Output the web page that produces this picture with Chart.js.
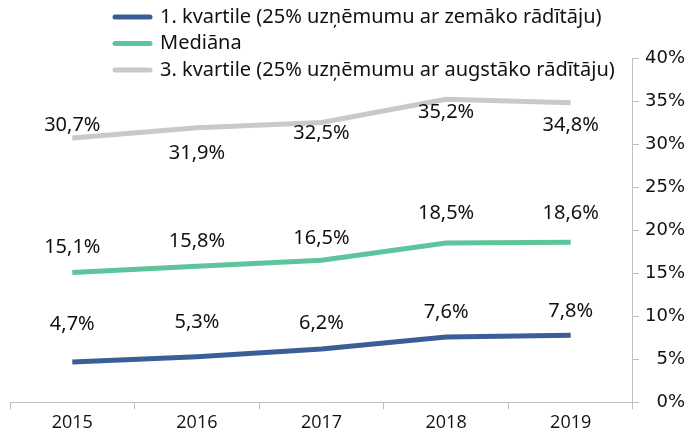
<!DOCTYPE html>
<html>
<head>
<meta charset="utf-8">
<script src="https://cdn.jsdelivr.net/npm/chart.js@4/dist/chart.umd.min.js"></script>
<style>
  html, body { margin: 0; padding: 0; background: #fff; }
  #wrap { width: 692px; height: 439px; }
</style>
</head>
<body>
<div id="wrap"><canvas id="kvartilesChart"></canvas></div>
<script>
// Dati
const gadi = ['2015', '2016', '2017', '2018', '2019'];
const kvartile1 = [4.7, 5.3, 6.2, 7.6, 7.8];
const mediana = [15.1, 15.8, 16.5, 18.5, 18.6];
const kvartile3 = [30.7, 31.9, 32.5, 35.2, 34.8];
const nosaukumi = [
    '1. kvartile (25% uzņēmumu ar zemāko rādītāju)',
    'Mediāna',
    '3. kvartile (25% uzņēmumu ar augstāko rādītāju)'
];

// Krāsas
const krasas = ['#3B5E96', '#5EC49B', '#C9C9C9'];
// Datu etiķešu nobīde (px) no punkta
const nobides = [
    [-38, -34, -26, -25, -24],
    [-25, -25, -22, -30, -29],
    [-13, 26, 11, 13, 23]
];

const fonts = '"Noto Sans", Lato, sans-serif';
const formatet = v => v.toFixed(1).replace('.', ',') + '%';

const datuEtiketes = {
    id: 'datuEtiketes',
    afterDatasetsDraw(chart) {
        const ctx = chart.ctx;
        ctx.save();
        ctx.font = '20px ' + fonts;
        ctx.fillStyle = '#111';
        ctx.textAlign = 'center';
        ctx.textBaseline = 'middle';
        chart.data.datasets.forEach((ds, i) => {
            chart.getDatasetMeta(i).data.forEach((pt, j) => {
                ctx.fillText(formatet(ds.data[j]), pt.x, pt.y + nobides[i][j]);
            });
        });
        ctx.restore();
    }
};

const legenda = {
    id: 'legenda',
    afterDraw(chart) {
        const ctx = chart.ctx;
        ctx.save();
        ctx.font = '20px ' + fonts;
        ctx.textBaseline = 'middle';
        ctx.lineCap = 'round';
        chart.data.datasets.forEach((ds, i) => {
            const y = 17 + i * 26.5;
            ctx.strokeStyle = ds.borderColor;
            ctx.lineWidth = 5;
            ctx.beginPath();
            ctx.moveTo(115, y);
            ctx.lineTo(150, y);
            ctx.stroke();
            ctx.fillStyle = '#111';
            ctx.fillText(ds.label, 160, y);
        });
        ctx.restore();
    }
};

new Chart(document.getElementById('kvartilesChart'), {
    type: 'line',
    data: {
        labels: gadi,
        datasets: [kvartile1, mediana, kvartile3].map((d, i) => ({
            label: nosaukumi[i],
            data: d,
            borderColor: krasas[i],
            backgroundColor: krasas[i],
            borderWidth: 5,
            pointRadius: 0,
            tension: 0,
            fill: false
        }))
    },
    options: {
        responsive: true,
        maintainAspectRatio: false,
        animation: false,
        layout: { padding: { top: 58, left: 10, right: 7, bottom: 2 } },
        plugins: {
            legend: { display: false },
            tooltip: { enabled: false }
        },
        scales: {
            x: {
                offset: true,
                grid: {
                    offset: true,
                    drawOnChartArea: false,
                    color: '#BFBFBF',
                    tickLength: 7
                },
                border: { color: '#BFBFBF' },
                ticks: { color: '#111', font: { size: 18, family: '"Liberation Sans Narrow", "Open Sans", sans-serif' }, padding: 3 }
            },
            y: {
                position: 'right',
                min: 0,
                max: 40,
                grid: {
                    drawOnChartArea: false,
                    color: '#BFBFBF',
                    tickLength: 6
                },
                border: { color: '#BFBFBF' },
                ticks: {
                    stepSize: 5,
                    color: '#111',
                    crossAlign: 'far',
                    padding: 3,
                    font: { size: 18, family: '"DejaVu Sans", sans-serif' },
                    callback: v => v + '%'
                }
            }
        }
    },
    plugins: [datuEtiketes, legenda]
});
</script>
</body>
</html>
